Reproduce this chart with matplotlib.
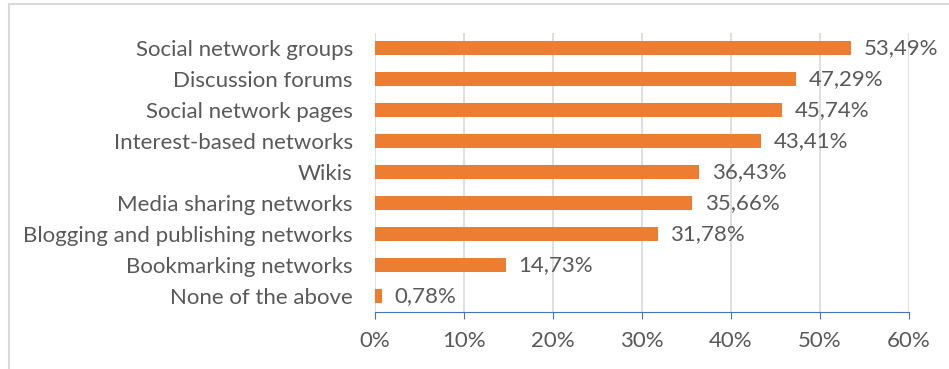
import matplotlib.pyplot as plt
from matplotlib.lines import Line2D

categories = ['Social network groups', 'Discussion forums', 'Social network pages',
              'Interest-based networks', 'Wikis', 'Media sharing networks',
              'Blogging and publishing networks', 'Bookmarking networks', 'None of the above']
values = [53.49, 47.29, 45.74, 43.41, 36.43, 35.66, 31.78, 14.73, 0.78]
ticks = [0, 10, 20, 30, 40, 50, 60]

plt.rcParams['font.family'] = ['Lato', 'DejaVu Sans']
txt = '#595959'
fs = 16

fig = plt.figure(figsize=(9.49, 3.69), dpi=100)
ax = fig.add_axes([375 / 949, 1 - 311.5 / 369, (909 - 375) / 949, (311.5 - 32.5) / 369])

y = list(range(len(categories)))[::-1]
ax.barh(y, values, height=0.45, color='#ED7D31', zorder=3)
for yi, v in zip(y, values):
    ax.text(v + 1.4, yi, f'{v:.2f}%'.replace('.', ','), va='center', ha='left',
            fontsize=fs, color=txt)

ax.set_xlim(0, 60)
ax.set_ylim(-0.5, len(categories) - 0.5)
ax.set_xticks(ticks)
ax.set_xticklabels([f'{t}%' for t in ticks], fontsize=fs, color=txt)
ax.set_yticks(y)
ax.set_yticklabels(categories, fontsize=fs, color=txt)
ax.grid(axis='x', color='#D9D9D9', linewidth=1.2, zorder=0)
for s in ['top', 'right', 'left']:
    ax.spines[s].set_visible(False)
ax.spines['bottom'].set_color('#4472C4')
ax.tick_params(axis='x', direction='out', length=5, color='#4472C4', pad=9)
ax.tick_params(axis='y', length=0, pad=16)

# chart frame (only left and top edges visible)
fig.add_artist(Line2D([8.5 / 949, 8.5 / 949], [0, 1 - 4 / 369], color='#D9D9D9', lw=1.5))
fig.add_artist(Line2D([8.5 / 949, 1], [1 - 4 / 369, 1 - 4 / 369], color='#D9D9D9', lw=1.5))

fig.savefig('out.png', dpi=100)
